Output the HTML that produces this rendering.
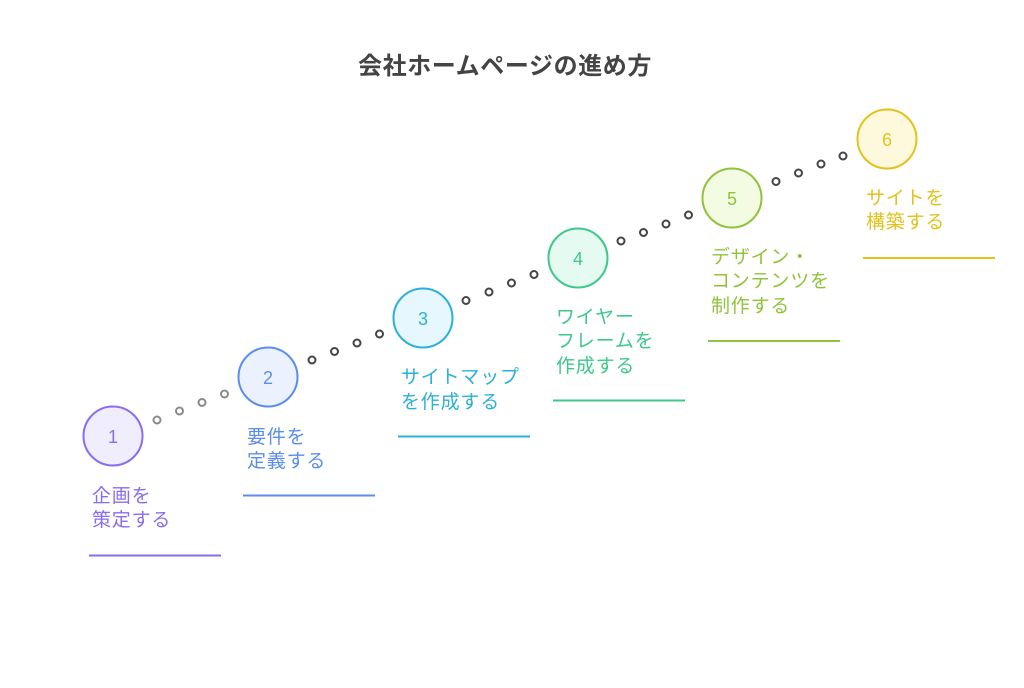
<!DOCTYPE html>
<html><head><meta charset="utf-8"><style>
html,body{margin:0;padding:0;background:#fff;}
svg{display:block;}
text{font-family:"Liberation Sans","Noto Sans CJK JP",sans-serif;}
</style></head><body>
<svg width="1024" height="688" viewBox="0 0 1024 688" xmlns="http://www.w3.org/2000/svg">
<text x="505" y="74" text-anchor="middle" font-size="24" font-weight="bold" fill="#444" letter-spacing="0.6">会社ホームページの進め方</text>
<g fill="none" stroke-width="2">
<g stroke="#8a8a8a"><circle cx="157" cy="420" r="3.5"/><circle cx="179.5" cy="411" r="3.5"/><circle cx="202" cy="402.5" r="3.5"/><circle cx="224.5" cy="394" r="3.5"/></g>
<g stroke="#444"><circle cx="312" cy="360" r="3.5"/><circle cx="334.5" cy="351.5" r="3.5"/><circle cx="357" cy="343" r="3.5"/><circle cx="379.5" cy="334" r="3.5"/>
<circle cx="466" cy="300.5" r="3.5"/><circle cx="489" cy="292" r="3.5"/><circle cx="511.5" cy="283" r="3.5"/><circle cx="534" cy="274.5" r="3.5"/>
<circle cx="621" cy="241" r="3.5"/><circle cx="643.5" cy="232.5" r="3.5"/><circle cx="666" cy="224" r="3.5"/><circle cx="688.5" cy="215" r="3.5"/>
<circle cx="776" cy="181.5" r="3.5"/><circle cx="798.5" cy="173" r="3.5"/><circle cx="821" cy="164" r="3.5"/><circle cx="843" cy="156" r="3.5"/></g>
</g>
<g stroke-width="2">
<circle cx="113" cy="436" r="29.5" fill="#f0edfe" stroke="#8b6cf0"/>
<circle cx="268" cy="377" r="29.5" fill="#ebf2fe" stroke="#5b8def"/>
<circle cx="423" cy="318" r="29.5" fill="#e6f7fd" stroke="#2bb0d9"/>
<circle cx="578" cy="258" r="29.5" fill="#e5faf0" stroke="#3ec98a"/>
<circle cx="732" cy="198" r="29.5" fill="#f3fce2" stroke="#8fc43a"/>
<circle cx="887" cy="139" r="29.5" fill="#fef9dc" stroke="#e2c21c"/>
</g>
<g font-size="18" text-anchor="middle">
<text x="113" y="443" fill="#8b6cf0">1</text>
<text x="268" y="384" fill="#5b8def">2</text>
<text x="423" y="325" fill="#2bb0d9">3</text>
<text x="578" y="265" fill="#3ec98a">4</text>
<text x="732" y="205" fill="#8fc43a">5</text>
<text x="887" y="146" fill="#e2c21c">6</text>
</g>
<g font-size="19" letter-spacing="0.8">
<g fill="#8b6cf0"><text x="92" y="502">企画を</text><text x="92" y="526">策定する</text></g>
<g fill="#5b8def"><text x="247" y="443">要件を</text><text x="247" y="467">定義する</text></g>
<g fill="#2bb0d9"><text x="401" y="383">サイトマップ</text><text x="401" y="408">を作成する</text></g>
<g fill="#3ec98a"><text x="556" y="323">ワイヤー</text><text x="556" y="347">フレームを</text><text x="556" y="372">作成する</text></g>
<g fill="#8fc43a"><text x="711" y="263">デザイン・</text><text x="711" y="287">コンテンツを</text><text x="711" y="312">制作する</text></g>
<g fill="#e2c21c"><text x="866" y="204">サイトを</text><text x="866" y="228">構築する</text></g>
</g>
<g stroke-width="2">
<line x1="89" y1="555.5" x2="221" y2="555.5" stroke="#8b6cf0"/>
<line x1="243" y1="495.5" x2="375" y2="495.5" stroke="#5b8def"/>
<line x1="398" y1="436.5" x2="530" y2="436.5" stroke="#2bb0d9"/>
<line x1="553" y1="400.5" x2="685" y2="400.5" stroke="#3ec98a"/>
<line x1="708" y1="341" x2="840" y2="341" stroke="#8fc43a"/>
<line x1="863" y1="258" x2="995" y2="258" stroke="#e2c21c"/>
</g>
</svg>
</body></html>
